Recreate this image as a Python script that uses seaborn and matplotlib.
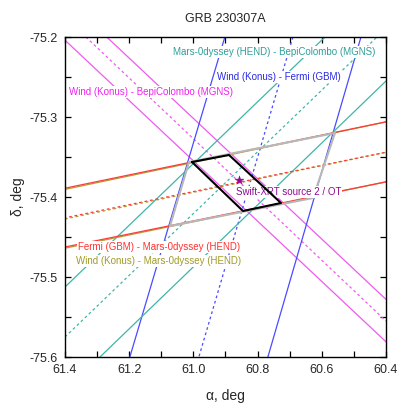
import matplotlib
matplotlib.use("Agg")
import matplotlib.pyplot as plt
import seaborn as sns
import pandas as pd
from matplotlib.ticker import MultipleLocator

# ---------------- data (alpha, delta in degrees) ----------------
alpha_edges = [61.40, 60.40]

# Wind (Konus) - BepiColombo (MGNS) annulus
wb_lo_alpha = [61.40, 60.40];  wb_lo_delta = [-75.204, -75.581]
wb_c_alpha = [61.335, 60.40];  wb_c_delta = [-75.200, -75.555]
wb_hi_alpha = [61.27, 60.40];  wb_hi_delta = [-75.200, -75.528]

# Wind (Konus) - Fermi (GBM) annulus
wf_delta = [-75.20, -75.60]
wf_l_alpha = [60.902, 61.198]
wf_c_alpha = [60.690, 60.983]
wf_r_alpha = [60.478, 60.768]

# Mars-Odyssey (HEND) - BepiColombo (MGNS) annulus
mb_1_alpha = [61.40, 60.59];   mb_1_delta = [-75.5125, -75.200]
mb_c_alpha = [61.40, 60.428];  mb_c_delta = [-75.575, -75.200]
mb_2_alpha = [61.291, 60.40];  mb_2_delta = [-75.600, -75.255]

# Fermi (GBM) - Mars-Odyssey (HEND) annulus
fm_top = [-75.389, -75.306]
fm_mid = [-75.426, -75.344]
fm_bot = [-75.4625, -75.381]

# Wind (Konus) - Mars-Odyssey (HEND) annulus
wm_top = [-75.3905, -75.3062]
wm_mid = [-75.4275, -75.3442]
wm_bot = [-75.4640, -75.3812]

# boxes
gray_alpha = [61.0137, 60.5589, 60.6274, 61.0729]
gray_delta = [-75.35625, -75.3200, -75.40125, -75.43625]
box_alpha = [61.0044, 60.8891, 60.7271, 60.8455]
box_delta = [-75.35625, -75.3475, -75.4075, -75.4175]

# Swift-XRT source
src_alpha = [60.858]
src_delta = [-75.3788]

title = "GRB 230307A"
x_ticks = [61.4, 61.2, 61.0, 60.8, 60.6, 60.4]
y_ticks = [-75.2, -75.3, -75.4, -75.5, -75.6]

# ---------------- styling ----------------
sns.set_style("ticks")
plt.rcParams["font.family"] = ["Liberation Sans", "DejaVu Sans"]

C_PINK = "#f05af0"
C_BLUE = "#4b4bff"
C_TEAL = "#3fb5a8"
C_RED = "#ff3a3a"
C_OLIVE = "#b0a035"
C_GRAY = "#b8b8b8"
C_PURPLE = "#8e0a8e"

fig = plt.figure(figsize=(3.98, 4.03), dpi=100)
ax = fig.add_axes([65 / 398, 46 / 403, 321 / 398, 320 / 403])

DOT = (0, (2.2, 2.2))


def line(xs, ys, color, ls="-", lw=0.9, z=2):
    df = pd.DataFrame({"a": xs, "d": ys})
    sns.lineplot(data=df, x="a", y="d", ax=ax, color=color, linestyle=ls,
                 linewidth=lw, sort=False, estimator=None, zorder=z)


# Wind - BepiColombo
line(wb_lo_alpha, wb_lo_delta, C_PINK)
line(wb_c_alpha, wb_c_delta, C_PINK, DOT)
line(wb_hi_alpha, wb_hi_delta, C_PINK)
# Wind - Fermi
line(wf_l_alpha, wf_delta, C_BLUE)
line(wf_c_alpha, wf_delta, C_BLUE, DOT)
line(wf_r_alpha, wf_delta, C_BLUE)
# Mars-Odyssey - BepiColombo
line(mb_1_alpha, mb_1_delta, C_TEAL)
line(mb_c_alpha, mb_c_delta, C_TEAL, DOT)
line(mb_2_alpha, mb_2_delta, C_TEAL)
# Wind - Mars-Odyssey
line(alpha_edges, wm_top, C_OLIVE)
line(alpha_edges, wm_mid, C_OLIVE, DOT)
line(alpha_edges, wm_bot, C_OLIVE)
# Fermi - Mars-Odyssey
line(alpha_edges, fm_top, C_RED)
line(alpha_edges, fm_mid, C_RED, (1.1, (2.2, 2.2)))
line(alpha_edges, fm_bot, C_RED)

# gray box and black box
line(gray_alpha + gray_alpha[:1], gray_delta + gray_delta[:1], C_GRAY, lw=1.5, z=3)
line(box_alpha + box_alpha[:1], box_delta + box_delta[:1], "black", lw=1.5, z=6)

sns.scatterplot(x=src_alpha, y=src_delta, ax=ax, marker="*", s=45,
                color=C_PURPLE, edgecolor=C_PURPLE, linewidth=0.3, zorder=7)

bb = dict(facecolor="white", edgecolor="none", pad=0.6)
fs = 7
ax.text(60.747, -75.2188, "Mars-0dyssey (HEND) - BepiColombo (MGNS)", color="#2e9e9a",
        fontsize=fs, ha="center", va="center", bbox=bb, zorder=5)
ax.text(60.735, -75.250, "Wind (Konus) - Fermi (GBM)", color="#2a2ae0",
        fontsize=fs, ha="center", va="center", bbox=bb, zorder=5)
ax.text(61.132, -75.2688, "Wind (Konus) - BepiColombo (MGNS)", color="#f020f0",
        fontsize=fs, ha="center", va="center", bbox=bb, zorder=5)
ax.text(61.107, -75.4625, "Fermi (GBM) - Mars-0dyssey (HEND)", color="#ff3030",
        fontsize=fs, ha="center", va="center", bbox=bb, zorder=5)
ax.text(61.107, -75.480, "Wind (Konus) - Mars-0dyssey (HEND)", color="#a09a2a",
        fontsize=fs, ha="center", va="center", bbox=bb, zorder=5)
ax.text(60.704, -75.3938, "Swift-XRT source 2 / OT", color=C_PURPLE,
        fontsize=fs, ha="center", va="center", bbox=bb, zorder=5)

ax.set_xlim(61.4, 60.4)
ax.set_ylim(-75.6, -75.2)
ax.set_xticks(x_ticks)
ax.set_yticks(y_ticks)
ax.set_xticklabels([f"{v:.1f}" for v in x_ticks])
ax.set_yticklabels([f"{v:.1f}" for v in y_ticks])
ax.xaxis.set_minor_locator(MultipleLocator(0.1))
ax.yaxis.set_minor_locator(MultipleLocator(0.05))
ax.tick_params(which="both", direction="in", top=True, right=True,
               length=4, width=0.9, color="black", labelsize=9, pad=5)
for s in ax.spines.values():
    s.set_visible(True)
    s.set_linewidth(1.0)
    s.set_color("black")

ax.set_xlabel("α, deg", fontsize=10)
ax.set_ylabel("δ, deg", fontsize=10)
ax.xaxis.set_label_coords(0.5, -0.10)
ax.yaxis.set_label_coords(-0.125, 0.5)
ax.set_title(title, fontsize=9, pad=11)

fig.savefig("out.png", dpi=100, facecolor="white")
